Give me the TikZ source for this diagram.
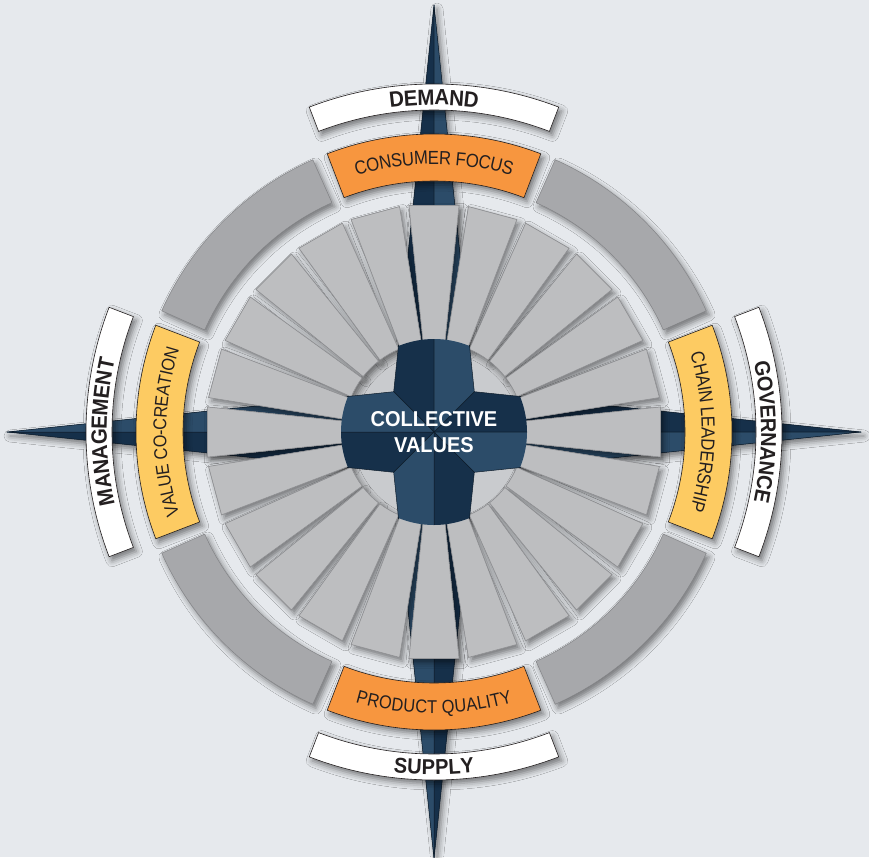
\documentclass[tikz,border=0pt]{standalone}
\usepackage{fontspec}
\setmainfont{Liberation Sans}
\newfontfamily\narrowfont{Liberation Sans}[FakeStretch=0.88]
\newfontfamily\narrowbold{Liberation Sans Bold}[FakeStretch=0.93]
\usetikzlibrary{decorations.text,shadows.blur}
\definecolor{bg}{HTML}{E6E9ED}
\definecolor{navyD}{HTML}{16304A}
\definecolor{navyL}{HTML}{2C4C69}
\definecolor{starline}{HTML}{0E1C2A}
\definecolor{wedgeF}{HTML}{BDBEC0}
\definecolor{wedgeline}{HTML}{8C8D90}
\definecolor{ringF}{HTML}{A7A8AB}
\definecolor{ringline}{HTML}{838487}
\definecolor{orangeF}{HTML}{F7963F}
\definecolor{yellowF}{HTML}{FDCB62}
\definecolor{ink}{HTML}{231F20}
\definecolor{discA}{HTML}{C9CBCE}
\definecolor{discB}{HTML}{E2E4E6}
\definecolor{discC}{HTML}{A0A2A5}
\pgfdeclareradialshading{discshade}{\pgfpoint{0bp}{0bp}}{color(0bp)=(discA); color(30bp)=(discA); color(40bp)=(discB); color(50bp)=(discC)}
\tikzset{
  shd/.style={blur shadow={shadow xshift=3pt, shadow yshift=-4pt, shadow blur radius=6pt, shadow opacity=50}},
  halfD/.style={fill=navyD, draw=starline, line width=0.5pt, line join=round},
  halfL/.style={fill=navyL, draw=starline, line width=0.5pt, line join=round},
  wedgebox/.style={fill=wedgeF, draw=wedgeline, line width=0.5pt},
  graybox/.style={shd, fill=ringF, draw=ringline, line width=0.5pt},
  orangebox/.style={shd, fill=orangeF, draw=ink, line width=0.6pt},
  yellowbox/.style={shd, fill=yellowF, draw=ink, line width=0.6pt},
  whitebox/.style={shd, fill=white, draw=ink, line width=0.6pt},
}
% #1 mid angle, #2 half angle, #3 inner r, #4 outer r, #5 style
\newcommand\ringsec[5]{%
  \path[#5] ({#1-#2}:#3pt) -- ({#1-#2}:#4pt) arc[start angle={#1-#2}, end angle={#1+#2}, radius=#4pt]
    -- ({#1+#2}:#3pt) arc[start angle={#1+#2}, end angle={#1-#2}, radius=#3pt] -- cycle;}
% curved label: #1 start angle, #2 end angle, #3 radius, #4 raise, #5 font, #6 text
\newcommand\arclabel[6]{%
  \path[decorate, decoration={text along path, text align=center, raise=#4, text color=ink,
      text={|#5|#6}}] (#1:#3pt) arc[start angle=#1, end angle=#2, radius=#3pt];}
\newcommand\starhalves{%
  \foreach \a in {0,90,180,270}{
    \path[halfD] (0,0) -- (\a:427pt) -- ({\a+45}:57pt) -- cycle;
    \path[halfL] (0,0) -- (\a:427pt) -- ({\a-45}:57pt) -- cycle;
  }}
\begin{document}
\begin{tikzpicture}
\useasboundingbox (-434pt,-425pt) rectangle (435pt,432pt);
\fill[bg] (-434pt,-425pt) rectangle (435pt,432pt);
% compass star
\path[shd, fill=navyD] (0:427pt) -- (45:57pt) -- (90:427pt) -- (135:57pt) -- (180:427pt)
   -- (225:57pt) -- (270:427pt) -- (315:57pt) -- cycle;
\starhalves
% central disc
\shade[shading=discshade] (0,0) circle (92pt);
% inner wedges (shadows first, then clean faces)
\foreach \a in {0,15,...,345}{
  \path[shd, wedgebox] ({\a-6.9}:90pt) -- ({\a-6.3}:228pt) -- ({\a+6.3}:228pt) -- ({\a+6.9}:90pt)
     arc[start angle={\a+6.9}, end angle={\a-6.9}, radius=90pt] -- cycle;
}
\foreach \a in {0,15,...,345}{
  \path[wedgebox] ({\a-6.9}:90pt) -- ({\a-6.3}:228pt) -- ({\a+6.3}:228pt) -- ({\a+6.9}:90pt)
     arc[start angle={\a+6.9}, end angle={\a-6.9}, radius=90pt] -- cycle;
}
% central cross
\begin{scope}
  \clip (0,0) circle (93pt);
  \starhalves
\end{scope}
% outer ring
\ringsec{45}{21}{251}{298}{graybox}
\ringsec{135}{21}{251}{298}{graybox}
\ringsec{225}{21}{251}{298}{graybox}
\ringsec{315}{21}{251}{298}{graybox}
\ringsec{90}{21}{251}{298}{orangebox}
\ringsec{270}{21}{251}{298}{orangebox}
\ringsec{0}{21}{251}{298}{yellowbox}
\ringsec{180}{21}{251}{298}{yellowbox}
% white label bands
\ringsec{90}{21}{322}{348}{whitebox}
\ringsec{270}{21}{322}{348}{whitebox}
\ringsec{0}{21}{322}{348}{whitebox}
\ringsec{180}{21}{322}{348}{whitebox}
% ring texts
\arclabel{111}{69}{274.5}{-6.8pt}{\narrowfont\fontsize{19pt}{19pt}\selectfont}{CONSUMER FOCUS}
\arclabel{249}{291}{274.5}{-6.8pt}{\narrowfont\fontsize{18.6pt}{18.6pt}\selectfont}{PRODUCT QUALITY}
\arclabel{201}{159}{274.5}{-6.8pt}{\narrowfont\fontsize{18.5pt}{18.5pt}\selectfont}{VALUE CO-CREATION}
\arclabel{21}{-21}{274.5}{-6.8pt}{\narrowfont\fontsize{19pt}{19pt}\selectfont}{CHAIN LEADERSHIP}
% band texts
\arclabel{111}{69}{335}{-7.8pt}{\narrowbold\fontsize{22pt}{22pt}\selectfont}{DEMAND}
\arclabel{249}{291}{335}{-7.8pt}{\narrowbold\fontsize{21.5pt}{21.5pt}\selectfont}{SUPPLY}
\arclabel{201}{159}{335}{-7.8pt}{\narrowbold\fontsize{22pt}{22pt}\selectfont}{MANAGEMENT}
\arclabel{21}{-21}{335}{-7.8pt}{\narrowbold\fontsize{21.5pt}{21.5pt}\selectfont}{GOVERNANCE}
% centre text
\node[text=white, font=\narrowbold\fontsize{21.5pt}{26pt}\selectfont, align=center, inner sep=0pt] (cv) at (0,0) {COLLECTIVE\\VALUES};
\end{tikzpicture}
\end{document}
